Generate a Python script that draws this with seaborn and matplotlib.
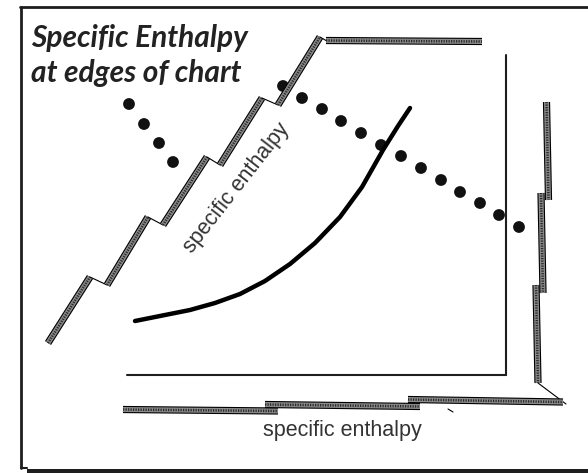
import numpy as np
import pandas as pd
import matplotlib
matplotlib.use("Agg")
import matplotlib.pyplot as plt
import seaborn as sns

# --- chart data (picture coordinates, y grows downward) ---
# saturation curve
curve_x = [135, 160, 190, 215, 240, 265, 290, 315, 340, 362, 383, 398, 410]
curve_y = [321, 316, 310, 303, 294, 281, 264, 243, 217, 187, 150, 126, 108]

# dotted enthalpy line (two groups)
dots_x = [129, 144, 159, 173,
          283, 302, 322, 341, 361, 381, 401, 421, 441, 460, 480, 499, 519]
dots_y = [104, 124, 143, 162,
          86, 98, 109, 121, 133, 145, 156, 168, 180, 192, 203, 215, 227]

# enthalpy scale strips (start x, start y, end x, end y)
diag_strips = [(48, 343, 90, 277), (107, 285, 148, 217), (163, 225, 207, 157),
               (220, 165, 262, 98), (278, 105, 320, 37)]
top_strip = [(326, 40.5, 482, 41.5)]
right_strips = [(546.5, 102, 548.5, 200), (541, 193, 543, 293), (536, 285, 538, 383)]
bottom_strips = [(123, 409.5, 278, 411), (265, 404.5, 420, 406.5), (408, 399.5, 563, 402)]

title_lines = ["Specific Enthalpy", "at edges of chart"]
axis_label = "specific enthalpy"

sns.set_style("white")
fig = plt.figure(figsize=(5.88, 4.73), dpi=100)
ax = fig.add_axes([0, 0, 1, 1])
ax.set_xlim(0, 588)
ax.set_ylim(473, 0)
ax.axis("off")

ink = "#1e1e1e"

# outer frame
ax.plot([20, 588], [7.5, 7.5], color=ink, lw=2)
ax.plot([21, 21], [7, 468], color=ink, lw=2)
ax.plot([21, 27], [467.5, 467.5], color=ink, lw=1.5)
ax.fill_between([27, 588], 468.5, 473, color=ink, lw=0)

# inner chart axes
ax.plot([506, 506], [55, 375], color=ink, lw=1.5)
ax.plot([127, 506], [375, 375], color=ink, lw=1.5)

# saturation curve
df_curve = pd.DataFrame({"x": curve_x, "y": curve_y})
sns.lineplot(data=df_curve, x="x", y="y", color="black", lw=3.2, sort=False,
             ax=ax, legend=False)

# enthalpy dots
df_dots = pd.DataFrame({"x": dots_x, "y": dots_y})
sns.scatterplot(data=df_dots, x="x", y="y", color="#111111", s=72,
                edgecolor="none", ax=ax, legend=False)


def draw_strip(x0, y0, x1, y1):
    ax.plot([x0, x1], [y0, y1], color="black", lw=5.2, solid_capstyle="butt")
    ax.plot([x0, x1], [y0, y1], color="#8a8a8a", lw=3.6, solid_capstyle="butt")
    ax.plot([x0, x1], [y0, y1], color="#2a2a2a", lw=1.8, ls=(0, (0.5, 0.5)),
            solid_capstyle="butt")


# diagonal scale with notches
for i, s in enumerate(diag_strips):
    draw_strip(*s)
    if i + 1 < len(diag_strips):
        nxt = diag_strips[i + 1]
        ax.plot([s[2], nxt[0]], [s[3], nxt[1]], color="black", lw=0.8)
ax.plot([320, 326], [37, 40.5], color="black", lw=0.8)
for s in top_strip:
    draw_strip(*s)

# right scale
for s in right_strips:
    draw_strip(*s)
ax.plot([538, 566], [383, 404], color="black", lw=0.8)

# bottom scale
for s in bottom_strips:
    draw_strip(*s)
ax.plot([448, 453], [409, 412], color="black", lw=0.8)

# texts
ax.text(31, 47, title_lines[0], fontsize=21.5, fontweight="bold", fontstyle="italic",
        family="Lato", color="#222222", va="baseline", ha="left")
ax.text(31, 82, title_lines[1], fontsize=21.5, fontweight="bold", fontstyle="italic",
        family="Lato", color="#222222", va="baseline", ha="left")
ax.text(237, 188, axis_label, fontsize=15.5, family="Liberation Sans", color="#333333",
        rotation=52, rotation_mode="anchor", ha="center", va="center")
ax.text(342, 436, axis_label, fontsize=15.5, family="Liberation Sans", color="#333333",
        ha="center", va="baseline")

fig.savefig("out.png", dpi=100)
